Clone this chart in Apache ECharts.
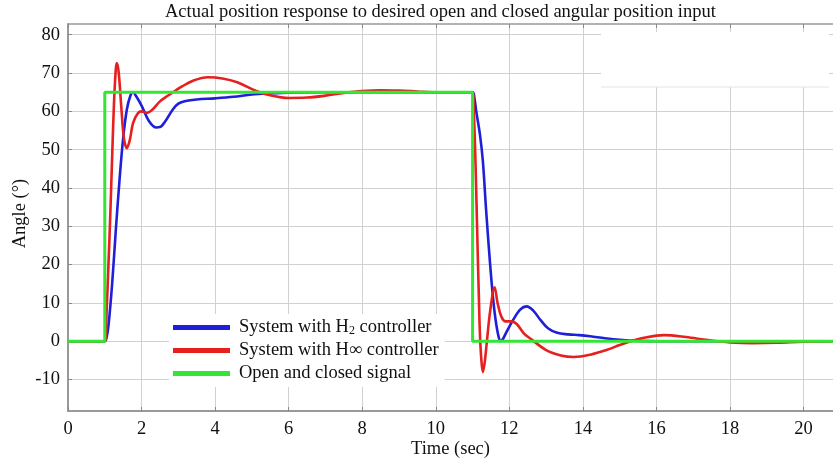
<!DOCTYPE html>
<html>
<head>
<meta charset="utf-8">
<script src="https://cdn.jsdelivr.net/npm/echarts@6/dist/echarts.min.js"></script>
<style>
html,body{margin:0;padding:0;background:#fff;}
#c{width:833px;height:461px;}
</style>
</head>
<body>
<div id="c"></div>
<script>
// ---- data ----
const titleText = 'Actual position response to desired open and closed angular position input';
const xTicks = [0, 2, 4, 6, 8, 10, 12, 14, 16, 18, 20];
const yTicks = [-10, 0, 10, 20, 30, 40, 50, 60, 70, 80];

const h2Time = [0,1.0,1.05,1.1,1.2,1.3,1.4,1.5,1.6,1.7,1.77,1.85,2.0,2.2,2.4,2.5,2.65,2.85,3.0,3.2,3.5,4.0,4.5,5.0,5.5,6.0,7.0,8,9,10,11.0,11.05,11.1,11.2,11.28,11.37,11.47,11.55,11.62,11.7,11.76,11.82,11.9,12.1,12.3,12.47,12.65,12.85,13.05,13.3,13.6,13.9,14.2,14.6,15.0,15.5,16,17,18,19,20,20.8];
const h2Angle = [0,0,1,4,15,29,42,53,60.5,64.2,65,64,61.5,57.5,55.8,55.9,57.5,60.5,62,62.7,63.1,63.4,63.8,64.4,64.7,64.9,65,65,65,65,65,63.5,60,54,47,34,21,12,6,1.5,0,0.5,2,5.5,8.3,9.1,8,5.5,3.4,2.2,1.8,1.6,1.3,0.8,0.4,0.1,0,0,0,0,0,0];

const hinfTime = [0,1.0,1.05,1.1,1.15,1.2,1.25,1.3,1.33,1.38,1.45,1.52,1.6,1.68,1.77,1.9,2.0,2.15,2.3,2.5,2.7,2.86,3.1,3.4,3.8,4.2,4.6,5.1,5.5,6.0,6.5,7.0,7.5,8.0,8.5,9.0,9.5,10,11.0,11.03,11.07,11.1,11.14,11.17,11.2,11.24,11.28,11.33,11.39,11.48,11.6,11.68,11.78,11.9,12.05,12.2,12.4,12.6,13.0,13.4,13.75,14.2,14.64,15.0,15.3,15.7,16.2,16.8,17.4,18.0,18.6,19.3,20,20.8];
const hinfAngle = [0,0,8,20,33,48,62,71,72.6,70,61,53,50.4,52.5,57,59.5,60,59.6,60.5,62.6,64,65,66.5,68,68.9,68.6,67.6,65.4,64.2,63.5,63.6,64.1,64.8,65.3,65.5,65.4,65.2,65,65,61,50,39,23,12,2,-5,-8,-5.5,0,8,14.1,10,6.5,5.2,5.2,4.5,2,0.5,-2.3,-3.7,-4.1,-3.5,-2.3,-1,0,1,1.6,1.1,0.3,-0.3,-0.5,-0.4,-0.1,0];

const signalTime = [0, 1, 1, 11, 11, 20.8];
const signalAngle = [0, 0, 65, 65, 0, 0];

const seriesNames = ['System with H2 controller', 'System with H\u221E controller', 'Open and closed signal'];

// ---- build ----
function zip(a, b) { return a.map((x, i) => [x, b[i]]); }
const serif = '"Liberation Serif", "DejaVu Serif", serif';
const FS = 18.5;

const chart = echarts.init(document.getElementById('c'));
chart.setOption({
  animation: false,
  backgroundColor: '#fff',
  title: {
    text: titleText,
    left: 160,
    top: -2,
    textStyle: { fontFamily: serif, fontSize: FS, fontWeight: 'normal', color: '#111' }
  },
  grid: { left: 68, right: 0, top: 24, bottom: 50, containLabel: false, outerBoundsMode: 'none' },
  legend: {
    orient: 'vertical',
    left: 169,
    top: 314,
    padding: [4, 6, 4, 4],
    backgroundColor: '#fff',
    itemWidth: 57,
    itemHeight: 5,
    itemGap: 4,
    icon: 'rect',
    data: seriesNames,
    textStyle: {
      fontFamily: serif, fontSize: FS, color: '#111', lineHeight: 19,
      rich: {
        a: { fontFamily: serif, fontSize: FS, color: '#111' },
        p: { fontFamily: serif, fontSize: FS, color: '#111', padding: [0, 0, 0, 4] },
        sub: { fontFamily: serif, fontSize: 12, color: '#111', verticalAlign: 'bottom', padding: [7, 0, 0, 0] }
      }
    },
    formatter: function (name) {
      if (name === seriesNames[0]) return '{p|System with H}{sub|2}{a| controller}';
      return '{p|' + name + '}';
    }
  },
  xAxis: [{
    type: 'value',
    min: 0,
    max: 20.8,
    name: 'Time (sec)',
    nameLocation: 'middle',
    nameGap: 29,
    nameMoveOverlap: false,
    nameTextStyle: { fontFamily: serif, fontSize: FS, color: '#111' },
    axisLine: { show: true, onZero: false, lineStyle: { color: '#999', width: 2 } },
    axisTick: { show: true, inside: true, length: 4, customValues: xTicks, lineStyle: { color: '#888' } },
    axisLabel: { customValues: xTicks, fontFamily: serif, fontSize: FS, color: '#111', margin: 9 },
    splitLine: { show: true, lineStyle: { color: '#d0d0d0', width: 1 } }
  }, {
    type: 'value',
    position: 'top',
    min: 0,
    max: 20.8,
    axisLine: { show: true, onZero: false, lineStyle: { color: '#999', width: 1.5 } },
    axisTick: { show: true, inside: true, length: 4, customValues: xTicks, lineStyle: { color: '#888' } },
    axisLabel: { show: false },
    splitLine: { show: false }
  }],
  yAxis: {
    type: 'value',
    min: -18.2,
    max: 82.8,
    name: 'Angle (\u00B0)',
    nameLocation: 'middle',
    nameGap: 38,
    nameMoveOverlap: false,
    nameRotate: 90,
    nameTextStyle: { fontFamily: serif, fontSize: FS, color: '#111', padding: [0, 0, 0, 8] },
    axisLine: { show: true, onZero: false, lineStyle: { color: '#999', width: 2 } },
    axisTick: { show: true, inside: true, length: 4, customValues: yTicks, lineStyle: { color: '#888' } },
    axisLabel: { customValues: yTicks, fontFamily: serif, fontSize: FS, color: '#111', margin: 8 },
    splitLine: { show: true, lineStyle: { color: '#d0d0d0', width: 1 } }
  },
  graphic: [{
    type: 'rect',
    left: 601, top: 32,
    shape: { width: 228, height: 55 },
    style: { fill: '#fff', stroke: null },
    z: 50
  }, {
    type: 'line',
    shape: { x1: 601, y1: 87, x2: 829, y2: 87 },
    style: { stroke: '#e4e4e4', lineWidth: 1 },
    z: 50
  }],
  series: [{
    name: seriesNames[0],
    type: 'line',
    data: zip(h2Time, h2Angle),
    showSymbol: false,
    smooth: 0.35,
    color: '#1f1fd9',
    lineStyle: { width: 2.6, color: '#1f1fd9' },
    z: 3
  }, {
    name: seriesNames[1],
    type: 'line',
    data: zip(hinfTime, hinfAngle),
    showSymbol: false,
    smooth: 0.35,
    color: '#e5201e',
    lineStyle: { width: 2.6, color: '#e5201e' },
    z: 4
  }, {
    name: seriesNames[2],
    type: 'line',
    data: zip(signalTime, signalAngle),
    showSymbol: false,
    color: '#33e633',
    lineStyle: { width: 3, color: '#33e633' },
    z: 5
  }]
});
</script>
</body>
</html>
